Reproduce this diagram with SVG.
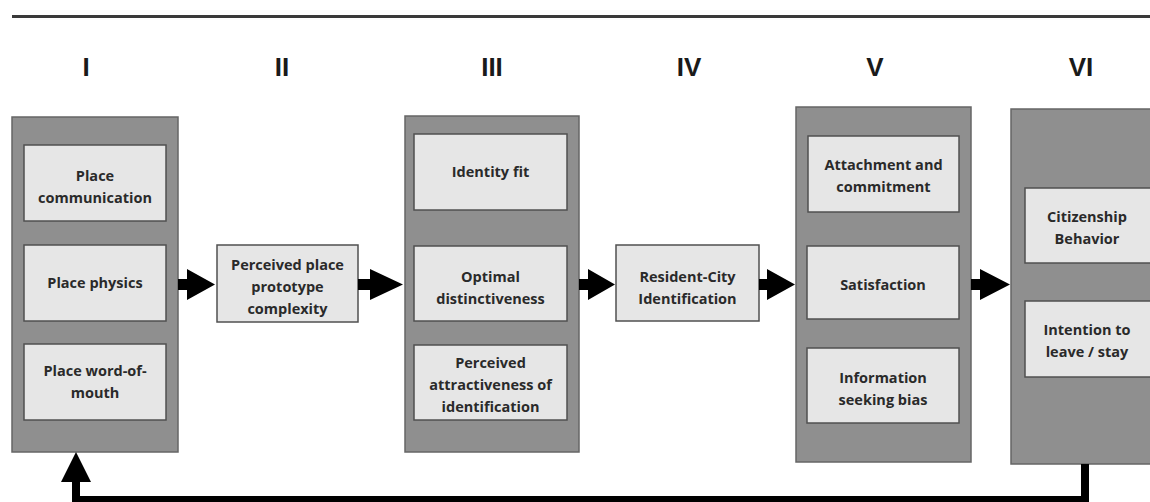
<svg xmlns="http://www.w3.org/2000/svg" width="1150" height="502" viewBox="0 0 1150 502">
<style>
.panel{fill:#8f8f8f;stroke:#666;stroke-width:1.5}
.box{fill:#e6e6e6;stroke:#505050;stroke-width:1.5}
.t{font-family:"Open Sans","Liberation Sans",sans-serif;font-weight:bold;font-size:14.5px;fill:#2a2a2a;text-anchor:middle}
.num{font-family:"Liberation Sans","Open Sans",sans-serif;font-weight:bold;font-size:26px;fill:#1a1a1a;text-anchor:middle}
.arr{fill:#000}
</style>
<rect width="1150" height="502" fill="#fff"/>
<line x1="12" y1="16.5" x2="1150" y2="16.5" stroke="#3a3a3a" stroke-width="3"/>
<g id="numerals">
<text class="num" x="86" y="76">I</text>
<text class="num" x="282" y="76">II</text>
<text class="num" x="492" y="76">III</text>
<text class="num" x="689" y="76">IV</text>
<text class="num" x="875" y="76">V</text>
<text class="num" x="1081" y="76">VI</text>
</g>
<g id="panel-I">
<rect class="panel" x="12" y="117" width="166" height="335"/>
<g id="place-communication"><rect class="box" x="24" y="145" width="142" height="76"/>
<text class="t" x="95" y="181">Place</text><text class="t" x="95" y="203">communication</text></g>
<g id="place-physics"><rect class="box" x="24" y="245" width="142" height="76"/>
<text class="t" x="95" y="288">Place physics</text></g>
<g id="place-wom"><rect class="box" x="24" y="344" width="142" height="76"/>
<text class="t" x="95" y="376">Place word-of-</text><text class="t" x="95" y="398">mouth</text></g>
</g>
<g id="node-II">
<rect class="box" x="217" y="245" width="141" height="77"/>
<text class="t" x="287.5" y="270">Perceived place</text><text class="t" x="287.5" y="292">prototype</text><text class="t" x="287.5" y="314">complexity</text>
</g>
<g id="panel-III">
<rect class="panel" x="405" y="116" width="174" height="336"/>
<g id="identity-fit"><rect class="box" x="414" y="134" width="153" height="76"/>
<text class="t" x="490.5" y="177">Identity fit</text></g>
<g id="optimal-distinctiveness"><rect class="box" x="414" y="246" width="153" height="75"/>
<text class="t" x="490.5" y="282">Optimal</text><text class="t" x="490.5" y="304">distinctiveness</text></g>
<g id="perceived-attractiveness"><rect class="box" x="414" y="345" width="153" height="75"/>
<text class="t" x="490.5" y="368">Perceived</text><text class="t" x="490.5" y="390">attractiveness of</text><text class="t" x="490.5" y="412">identification</text></g>
</g>
<g id="node-IV">
<rect class="box" x="616" y="245" width="143" height="76"/>
<text class="t" x="687.5" y="282">Resident-City</text><text class="t" x="687.5" y="304">Identification</text>
</g>
<g id="panel-V">
<rect class="panel" x="796" y="107" width="175" height="355"/>
<g id="attachment"><rect class="box" x="808" y="136" width="151" height="76"/>
<text class="t" x="883.5" y="170">Attachment and</text><text class="t" x="883.5" y="192">commitment</text></g>
<g id="satisfaction"><rect class="box" x="807" y="246" width="152" height="73"/>
<text class="t" x="883" y="290">Satisfaction</text></g>
<g id="information-bias"><rect class="box" x="807" y="348" width="152" height="75"/>
<text class="t" x="883" y="383">Information</text><text class="t" x="883" y="405">seeking bias</text></g>
</g>
<g id="panel-VI">
<rect class="panel" x="1011" y="109" width="150" height="355"/>
<g id="citizenship"><rect class="box" x="1025" y="188" width="135" height="75"/>
<text class="t" x="1087" y="222">Citizenship</text><text class="t" x="1087" y="244">Behavior</text></g>
<g id="intention"><rect class="box" x="1025" y="301" width="135" height="76"/>
<text class="t" x="1087" y="335">Intention to</text><text class="t" x="1087" y="357">leave / stay</text></g>
</g>
<g id="connectors">
<polygon class="arr" points="178,279 187,279 187,269 215,284.5 187,300 187,290 178,290"/>
<polygon class="arr" points="358,279 370,279 370,269 403,284.5 370,300 370,290 358,290"/>
<polygon class="arr" points="579,279 588,279 588,269 615,284.5 588,300 588,290 579,290"/>
<polygon class="arr" points="759,279 767,279 767,269 795,284.5 767,300 767,290 759,290"/>
<polygon class="arr" points="971,279 980,279 980,269 1010,284.5 980,300 980,290 971,290"/>
<polyline points="1085,464 1085,500 76,500 76,480" fill="none" stroke="#000" stroke-width="8"/>
<polygon class="arr" points="61,482 91,482 76,452"/>
</g>
</svg>
